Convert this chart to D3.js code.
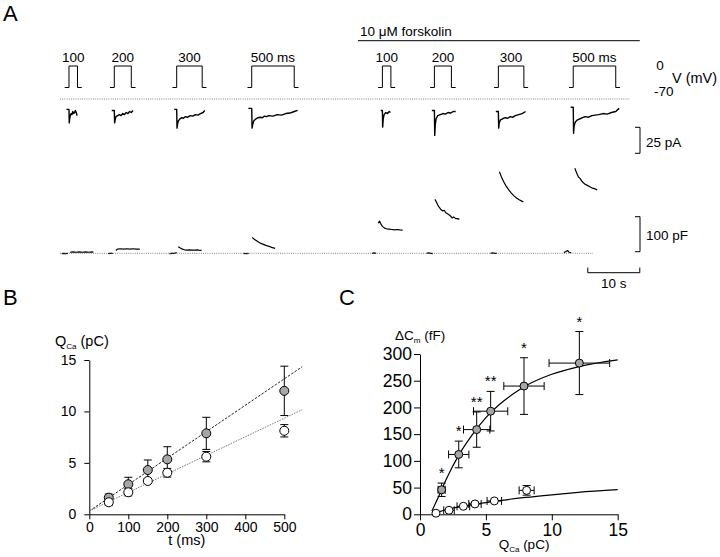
<!DOCTYPE html>
<html><head><meta charset="utf-8">
<script src="https://cdn.jsdelivr.net/npm/d3@7"></script>
<style>body{margin:0;background:#fff} svg{display:block;font-family:"Liberation Sans",Arial,Helvetica,sans-serif}</style>
</head><body><svg id="c" width="720" height="557"></svg>
<script>
// ================= DATA =================
// ---- Panel A: protocol ----
const pulseDurations = [100, 200, 300, 500];            // ms
const pulseLabels = ["100", "200", "300", "500 ms"];
const sweepCondition = ["ctrl","ctrl","ctrl","ctrl","fsk","fsk","fsk","fsk"];
const sweepOnsets = [1.73, 10.44, 22.44, 36.87, 62.0, 72.0, 84.3, 98.7]; // s, on the Cm time axis
const holdingV = -70, testV = 0;                         // mV
const forskolinLabel = "10 \u03bcM forskolin";

// ---- Panel A: Ca current traces [ms from pulse onset, pA] ----
const iCtrl100 = [[-30,-10],[0,-10],[3,-23],[8,-19],[15,-16],[25,-14],[35,-15],[45,-12],[55,-14],[65,-13],[75,-11],[85,-13],[95,-16]];
const iCtrl200 = [[-30,-11],[0,-11],[4,-23],[10,-20],[20,-17],[40,-16],[60,-15],[80,-16],[100,-14],[120,-15],[140,-13],[160,-14],[180,-12],[200,-13],[220,-11]];
const iCtrl300 = [[-30,-10],[0,-10],[4,-28],[10,-24],[20,-21],[40,-19],[60,-18],[80,-18.5],[100,-17],[130,-17.5],[160,-16],[190,-16.5],[220,-15],[250,-15.5],[280,-14],[310,-13],[330,-11]];
const iCtrl500 = [[-40,-9],[0,-9],[4,-28],[10,-25],[25,-21],[50,-19],[75,-18],[100,-17.5],[125,-18],[150,-16.5],[175,-17],[200,-16],[250,-16.5],[300,-15],[350,-15.5],[400,-14],[450,-13.5],[500,-12],[540,-11]];
const iFsk100 = [[-20,-11],[0,-11],[3,-27],[10,-19],[20,-15],[40,-13],[60,-14],[80,-12],[95,-13]];
const iFsk200 = [[-30,-11],[0,-11],[4,-35],[10,-25],[20,-19],[40,-16],[70,-15],[100,-14],[130,-14.5],[160,-13],[190,-13.5],[220,-12],[250,-12]];
const iFsk300 = [[-30,-12],[0,-12],[4,-28],[10,-23],[25,-20],[50,-19],[80,-18],[110,-18.5],[140,-17],[170,-17.5],[200,-16],[240,-15],[280,-14],[320,-12]];
const iFsk500 = [[-30,-8],[0,-8],[4,-33],[10,-26],[25,-22],[50,-20],[80,-19],[110,-18],[140,-17],[180,-17.5],[220,-16],[260,-15.5],[300,-15],[350,-14],[400,-14.5],[450,-13],[500,-12],[540,-9]];
const currentTraces = [iCtrl100, iCtrl200, iCtrl300, iCtrl500, iFsk100, iFsk200, iFsk300, iFsk500];

// ---- Panel A: capacitance traces [s from pulse onset, fF]; pre- and post-pulse segments ----
const cmPre = [
  [[-1.4,-1],[-1.0,0],[-0.6,-1],[-0.2,0]],
  [[-1.2,-1],[-0.8,0],[-0.3,0]],
  [[-1.4,-1],[-0.9,0],[-0.4,0],[0,2]],
  [[-1.6,0],[-1.1,-1],[-0.6,0]],
  [[-2.0,0],[-1.6,1],[-1.2,0]],
  [[-1.5,0],[-1.1,1],[-0.7,0],[-0.3,-1]],
  [[-1.5,0],[-1.1,1],[-0.7,0],[-0.3,0]],
  [[-1.8,2],[-1.4,5],[-1.1,8],[-0.8,3],[-0.4,2]]
];
const cmPost = [
  [[0.2,3],[0.8,4],[1.4,3],[2,4],[2.6,3],[3.2,4],[3.8,3],[4.4,4],[4.7,3]],
  [[0.3,8],[0.6,12],[1.2,13],[1.8,12],[2.4,13],[3,12],[3.6,13],[4.2,12],[4.9,12]],
  [[0.3,19],[0.7,15],[1.1,12],[1.5,10],[2,9],[2.5,10],[3,9],[3.5,9],[4,10],[4.5,8],[4.8,9]],
  [[0.1,45],[0.5,40],[1,35],[1.5,30],[2,27],[2.5,24],[3,21],[3.5,19],[4,16],[4.5,14]],
  [[-0.8,86],[-0.55,92],[-0.3,84],[0,77],[0.4,72],[0.8,70],[1.3,69],[1.8,68],[2.3,67],[2.8,68],[3.3,67],[3.9,66]],
  [[0.1,154],[0.4,146],[0.8,134],[1.2,126],[1.6,121],[1.9,123],[2.2,116],[2.6,112],[3,108],[3.4,101],[3.7,104],[4.1,99],[4.5,99],[4.8,97]],
  [[0.2,233],[0.6,218],[1,205],[1.5,192],[2,181],[2.5,172],[3,164],[3.5,158],[4,153],[4.5,149],[4.8,147]],
  [[0.3,243],[0.7,228],[1,218],[1.3,214],[1.7,205],[2.2,198],[2.7,194],[3.2,190],[3.7,186],[4.2,184],[4.6,181]]
];
const scaleBarCurrent = 25;   // pA
const scaleBarCm = 100;       // "pF" as labelled
const scaleBarTime = 10;      // s

// ---- Panel B: Q_Ca vs pulse duration ----
const tB = [50, 100, 150, 200, 300, 500];                 // ms
const qCtrl = [1.17, 2.14, 3.24, 4.04, 5.6, 8.12];        // pC
const qCtrlErr = [0.3, 0.35, 0.25, 0.42, 0.5, 0.6];
const qFsk = [1.62, 2.92, 4.3, 5.34, 7.87, 12.0];
const qFskErr = [0.35, 0.68, 0.98, 1.23, 1.56, 2.4];
const fitCtrlB = [[0, 0.32], [546, 10.17]];
const fitFskB = [[0, 0.32], [546, 14.35]];
const bXTicks = [0, 100, 200, 300, 400, 500];
const bYTicks = [0, 5, 10, 15];

// ---- Panel C: ΔCm vs Q_Ca ----
const cQCtrl = [1.21, 2.2, 3.29, 4.17, 5.64, 8.09];
const cQCtrlErr = [0, 0.4, 0.48, 0.47, 0.55, 0.57];
const cCmCtrl = [2, 7.5, 15, 19.4, 25, 44.8];
const cCmCtrlErr = [0, 0, 0, 0, 0, 9];
const cQFsk = [1.64, 2.94, 4.3, 5.36, 7.89, 12.09];
const cQFskErr = [0.27, 0.77, 1.0, 1.3, 1.53, 2.3];
const cCmFsk = [45.9, 112, 158.5, 193, 240, 283];
const cCmFskErr = [12.5, 25, 33, 37, 53, 59];
const cStars = ["*", "*", "**", "**", "*", "*"];
const fitFskCQ = [0.9, 1.5, 2, 3, 4, 5, 6, 7, 8, 10, 12, 15];
const fitFskC = [6, 38, 66, 113, 150, 181, 205, 224, 240, 262, 276, 289];
const fitCtrlCQ = [1.0, 1.5, 2, 3, 4, 5, 6, 8, 10, 12, 15];
const fitCtrlC = [0, 5, 9, 14, 18, 22, 25.5, 31.5, 36.5, 41, 46];
const cXTicks = [0, 5, 10, 15];
const cYTicks = [0, 50, 100, 150, 200, 250, 300];

// ================= DRAW =================
const svg = d3.select("#c");
const line = d3.line();

// panel letters
svg.append("text").attr("x", 3).attr("y", 21).attr("font-size", 22).text("A");
svg.append("text").attr("x", 3).attr("y", 305).attr("font-size", 22).text("B");
svg.append("text").attr("x", 339).attr("y", 305).attr("font-size", 22).text("C");

// ---------- Panel A ----------
const xS = d3.scaleLinear().domain([0, 10]).range([60, 112]);       // seconds
const msPx = d3.scaleLinear().domain([0, 100]).range([0, 8.5]);     // ms within a sweep
const yV = d3.scaleLinear().domain([-70, 0]).range([87.5, 66]);
const yI = d3.scaleLinear().domain([0, -25]).range([99, 125]);
const yCm = d3.scaleLinear().domain([0, 100]).range([253.3, 218.3]);
const gA = svg.append("g");

sweepOnsets.forEach((on, i) => {
  const d = pulseDurations[i % 4];
  const ox = xS(on);
  const prot = [[-50, holdingV], [0, holdingV], [0, testV], [d, testV], [d, holdingV], [d + 50, holdingV]];
  gA.append("path").attr("d", line(prot.map(p => [ox + msPx(p[0]), yV(p[1])])))
    .attr("fill", "none").attr("stroke", "#000").attr("stroke-width", 1);
  gA.append("text").attr("x", ox + msPx(d / 2)).attr("y", 61.5).attr("text-anchor", "middle")
    .attr("font-size", 13.5).text(pulseLabels[i % 4]);
  gA.append("path").attr("d", line(currentTraces[i].map(p => [ox + msPx(p[0]), yI(p[1])])))
    .attr("fill", "none").attr("stroke", "#000").attr("stroke-width", 1.4).attr("stroke-linejoin", "round");
  [cmPre[i], cmPost[i]].forEach(seg => {
    gA.append("path").attr("d", line(seg.map(p => [xS(on + p[0]), yCm(p[1])])))
      .attr("fill", "none").attr("stroke", "#000").attr("stroke-width", 1.2).attr("stroke-linejoin", "round");
  });
});

// reference dotted lines
gA.append("line").attr("x1", xS(0)).attr("x2", xS(109.6)).attr("y1", yI(0)).attr("y2", yI(0))
  .attr("stroke", "#666").attr("stroke-width", 0.8).attr("stroke-dasharray", "1,1.2");
gA.append("line").attr("x1", xS(0)).attr("x2", xS(102.5)).attr("y1", yCm(0)).attr("y2", yCm(0))
  .attr("stroke", "#666").attr("stroke-width", 0.8).attr("stroke-dasharray", "1,1.2");

// forskolin bar
gA.append("line").attr("x1", xS(57.3)).attr("x2", xS(111.5)).attr("y1", 40.7).attr("y2", 40.7)
  .attr("stroke", "#000").attr("stroke-width", 1);
gA.append("text").attr("x", xS(57.7)).attr("y", 36).attr("font-size", 13.5).text(forskolinLabel);

// voltage labels
gA.append("text").attr("x", 660).attr("y", yV(0) + 4).attr("text-anchor", "middle").attr("font-size", 13.5).text("0");
gA.append("text").attr("x", 654).attr("y", yV(-70) + 8).attr("font-size", 13.5).text("-70");
gA.append("text").attr("x", 672).attr("y", 83).attr("font-size", 14.5).text("V (mV)");

// scale bars
const sbX = 640;
function vBar(yTop, len, label, ly) {
  gA.append("path").attr("d", `M${sbX - 5},${yTop}H${sbX}V${yTop + len}H${sbX - 5}`)
    .attr("fill", "none").attr("stroke", "#000").attr("stroke-width", 1);
  gA.append("text").attr("x", sbX + 6).attr("y", ly).attr("font-size", 13.5).text(label);
}
vBar(127.3, yI(-scaleBarCurrent) - yI(0), scaleBarCurrent + " pA", 147);
vBar(216.7, yCm(0) - yCm(scaleBarCm), scaleBarCm + " pF", 240);
const tb0 = xS(101.5), tb1 = xS(101.5 + scaleBarTime);
gA.append("path").attr("d", `M${tb0},267.5V272.7H${tb1}V267.5`).attr("fill", "none").attr("stroke", "#000").attr("stroke-width", 1);
gA.append("text").attr("x", (tb0 + tb1) / 2).attr("y", 288).attr("text-anchor", "middle").attr("font-size", 13.5).text(scaleBarTime + " s");

// ---------- Panel B ----------
const xB = d3.scaleLinear().domain([0, 500]).range([89.3, 284.3]);
const yB = d3.scaleLinear().domain([0, 15]).range([514.3, 360]);
const gB = svg.append("g");
gB.append("g").attr("transform", `translate(0,${yB(0)})`)
  .call(d3.axisBottom(xB).tickValues(bXTicks).tickSize(5).tickSizeOuter(0).tickPadding(3))
  .attr("font-family", null).attr("font-size", 14);
gB.append("g").attr("transform", `translate(${xB(0)},0)`)
  .call(d3.axisLeft(yB).tickValues(bYTicks).tickSize(5).tickSizeOuter(0).tickPadding(8))
  .attr("font-family", null).attr("font-size", 14);
gB.selectAll(".domain, .tick line").attr("stroke", "#000");
gB.selectAll(".tick text").attr("fill", "#000");

gB.append("path").attr("d", line(fitFskB.map(p => [xB(p[0]), yB(p[1])])))
  .attr("stroke", "#222").attr("stroke-width", 1).attr("stroke-dasharray", "2.5,1.5").attr("fill", "none");
gB.append("path").attr("d", line(fitCtrlB.map(p => [xB(p[0]), yB(p[1])])))
  .attr("stroke", "#777").attr("stroke-width", 1).attr("stroke-dasharray", "1.5,1.2").attr("fill", "none");

function errV(g, x, y0, y1, cap) {
  g.append("line").attr("x1", x).attr("x2", x).attr("y1", y0).attr("y2", y1).attr("stroke", "#000");
  [y0, y1].forEach(y => g.append("line").attr("x1", x - cap).attr("x2", x + cap).attr("y1", y).attr("y2", y).attr("stroke", "#000"));
}
function errH(g, y, x0, x1, cap) {
  g.append("line").attr("x1", x0).attr("x2", x1).attr("y1", y).attr("y2", y).attr("stroke", "#000");
  [x0, x1].forEach(x => g.append("line").attr("x1", x).attr("x2", x).attr("y1", y - cap).attr("y2", y + cap).attr("stroke", "#000"));
}
tB.forEach((t, i) => errV(gB, xB(t), yB(qFsk[i] - qFskErr[i]), yB(qFsk[i] + qFskErr[i]), 4));
tB.forEach((t, i) => errV(gB, xB(t), yB(qCtrl[i] - qCtrlErr[i]), yB(qCtrl[i] + qCtrlErr[i]), 4));
gB.selectAll("circle.f").data(tB).join("circle").attr("class", "f")
  .attr("cx", d => xB(d)).attr("cy", (d, i) => yB(qFsk[i])).attr("r", 4.5)
  .attr("fill", "#a6a6a6").attr("stroke", "#000").attr("stroke-width", 1);
gB.selectAll("circle.o").data(tB).join("circle").attr("class", "o")
  .attr("cx", d => xB(d)).attr("cy", (d, i) => yB(qCtrl[i])).attr("r", 4.5)
  .attr("fill", "#fff").attr("stroke", "#000").attr("stroke-width", 1);

const qb = gB.append("text").attr("x", 55).attr("y", 346).attr("font-size", 14.5);
qb.append("tspan").text("Q");
qb.append("tspan").attr("font-size", 8).attr("dy", 3).text("Ca");
qb.append("tspan").attr("dy", -3).text(" (pC)");
gB.append("text").attr("x", (xB(0) + xB(500)) / 2).attr("y", 545).attr("text-anchor", "middle").attr("font-size", 14.5).text("t (ms)");

// ---------- Panel C ----------
const xC = d3.scaleLinear().domain([0, 15]).range([420, 617.7]);
const yC = d3.scaleLinear().domain([0, 300]).range([514.3, 354]);
const gC = svg.append("g");
gC.append("g").attr("transform", `translate(0,${yC(0)})`)
  .call(d3.axisBottom(xC).tickValues(cXTicks).tickSize(6).tickSizeOuter(0).tickPadding(3))
  .attr("font-family", null).attr("font-size", 17.5);
gC.append("g").attr("transform", `translate(${xC(0)},0)`)
  .call(d3.axisLeft(yC).tickValues(cYTicks).tickSize(6).tickSizeOuter(0).tickPadding(2))
  .attr("font-family", null).attr("font-size", 17.5);
gC.selectAll(".domain, .tick line").attr("stroke", "#000");
gC.selectAll(".tick text").attr("fill", "#000");

const curve = d3.line().curve(d3.curveMonotoneX);
gC.append("path").attr("d", curve(fitFskCQ.map((q, i) => [xC(q), yC(fitFskC[i])])))
  .attr("fill", "none").attr("stroke", "#000").attr("stroke-width", 1.2);
gC.append("path").attr("d", curve(fitCtrlCQ.map((q, i) => [xC(q), yC(fitCtrlC[i])])))
  .attr("fill", "none").attr("stroke", "#000").attr("stroke-width", 1.2);

cQFsk.forEach((q, i) => {
  errV(gC, xC(q), yC(cCmFsk[i] - cCmFskErr[i]), yC(cCmFsk[i] + cCmFskErr[i]), 4);
  errH(gC, yC(cCmFsk[i]), xC(q - cQFskErr[i]), xC(q + cQFskErr[i]), 4);
  gC.append("text").attr("x", xC(q)).attr("y", yC(cCmFsk[i] + cCmFskErr[i]) - 5)
    .attr("text-anchor", "middle").attr("font-size", 15).text(cStars[i]);
});
cQCtrl.forEach((q, i) => {
  if (cCmCtrlErr[i] > 0) errV(gC, xC(q), yC(cCmCtrl[i] - cCmCtrlErr[i]), yC(cCmCtrl[i] + cCmCtrlErr[i]), 4);
  if (cQCtrlErr[i] > 0) errH(gC, yC(cCmCtrl[i]), xC(q - cQCtrlErr[i]), xC(q + cQCtrlErr[i]), 4);
});
gC.selectAll("circle.f").data(cQFsk).join("circle").attr("class", "f")
  .attr("cx", d => xC(d)).attr("cy", (d, i) => yC(cCmFsk[i])).attr("r", 4)
  .attr("fill", "#a6a6a6").attr("stroke", "#000").attr("stroke-width", 1);
gC.selectAll("circle.o").data(cQCtrl).join("circle").attr("class", "o")
  .attr("cx", d => xC(d)).attr("cy", (d, i) => yC(cCmCtrl[i])).attr("r", 4)
  .attr("fill", "#fff").attr("stroke", "#000").attr("stroke-width", 1);

const cy = gC.append("text").attr("x", 395).attr("y", 340).attr("font-size", 13.5);
cy.append("tspan").text("\u0394C");
cy.append("tspan").attr("font-size", 8).attr("dy", 3).text("m");
cy.append("tspan").attr("dy", -3).text(" (fF)");
const cx = gC.append("text").attr("x", 524).attr("y", 549).attr("text-anchor", "middle").attr("font-size", 13.5);
cx.append("tspan").text("Q");
cx.append("tspan").attr("font-size", 8).attr("dy", 3).text("Ca");
cx.append("tspan").attr("dy", -3).text(" (pC)");
</script></body></html>
